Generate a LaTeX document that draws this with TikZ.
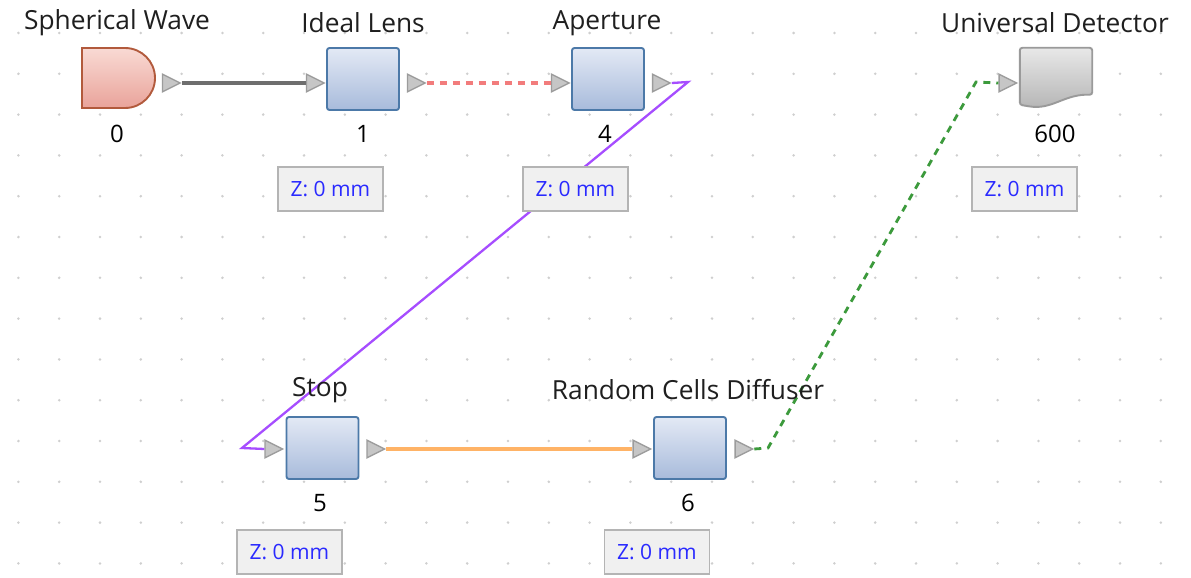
\documentclass[tikz,border=0pt]{standalone}
\usepackage{fontspec}
\setmainfont{Open Sans}
\usetikzlibrary{shapes.geometric,shapes.misc,calc}
\definecolor{boxtop}{HTML}{E3E9F5}
\definecolor{boxbot}{HTML}{A8BBDB}
\definecolor{boxedge}{HTML}{4C79A8}
\definecolor{srctop}{HTML}{F9DAD4}
\definecolor{srcbot}{HTML}{E9A39A}
\definecolor{srcedge}{HTML}{B25A3C}
\definecolor{dettop}{HTML}{E8E8E8}
\definecolor{detbot}{HTML}{B6B6B6}
\definecolor{detedge}{HTML}{9A9A9A}
\definecolor{portfill}{HTML}{C6C6C6}
\definecolor{portedge}{HTML}{9C9C9C}
\definecolor{dotc}{HTML}{CFCFCF}
\definecolor{zfill}{HTML}{F0F0F0}
\definecolor{zedge}{HTML}{B4B4B4}
\definecolor{ztext}{HTML}{2A2AFF}
\definecolor{cgray}{HTML}{6E6E6E}
\definecolor{cred}{HTML}{F27C7C}
\definecolor{cpurple}{HTML}{A64DFF}
\definecolor{corange}{HTML}{FFB366}
\definecolor{cgreen}{HTML}{3C9A3C}
\begin{document}
\begin{tikzpicture}[x=1pt,y=-1pt,
  title/.style={font=\fontsize{26.3}{29}\selectfont, text=black!88, inner sep=0},
  num/.style={font=\fontsize{24}{28}\selectfont, text=black, inner sep=0},
  zbox/.style={draw=zedge, line width=1.4pt, fill=zfill, minimum width=105pt, minimum height=44pt, text=ztext, font=\fontsize{21}{24}\selectfont, inner sep=0},
  elem/.style={draw=boxedge, line width=1.9pt, rounded corners=2.5pt, top color=boxtop, bottom color=boxbot, minimum width=72pt, minimum height=62pt, inner sep=0},
  srcshape/.style={rounded rectangle, rounded rectangle left arc=none, draw=srcedge, line width=1.9pt, top color=srctop, bottom color=srcbot, minimum width=73pt, minimum height=60pt, inner sep=0},
  port/.style={isosceles triangle, isosceles triangle stretches, draw=portedge, fill=portfill, line width=1.3pt, minimum width=17.5pt, minimum height=17.5pt, inner sep=0},
  cgrayline/.style={draw=cgray, line width=3.3pt},
  credline/.style={draw=cred, line width=3.3pt, dash pattern=on 7pt off 6pt},
  cpurpleline/.style={draw=cpurple, line width=2.3pt},
  corangeline/.style={draw=corange, line width=3.5pt},
  cgreenline/.style={draw=cgreen, line width=2.8pt, dash pattern=on 7pt off 6pt}
]
\useasboundingbox (0,0) rectangle (1191,578);
\fill[white] (0,0) rectangle (1191,578);
% grid dots
\foreach \i in {0,...,28} {
  \foreach \j in {0,...,13} {
    \fill[dotc] ({18.4+40.8*\i},{33+40.8*\j}) circle (1.4pt);
  }
}
% elements
\node[srcshape] (src) at (118.5,78) {};
\node[elem] (lens) at (363,79) {};
\node[elem] (ap) at (608,79) {};
\node[elem] (stop) at (322.5,448) {};
\node[elem] (diff) at (690,448) {};
\node[minimum width=72pt, minimum height=60pt, inner sep=0] (det) at (1056,78) {};
\draw[draw=detedge, line width=1.9pt, top color=dettop, bottom color=detbot, rounded corners=2.5pt]
  (det.north west) -- (det.north east) -- ($(det.north east)+(0,47)$)
  .. controls ($(det.north east)+(-26,46)$) and ($(det.north east)+(-38,60)$) .. ($(det.north west)+(12,59)$)
  -- ($(det.north west)+(0,57)$) -- cycle;
% ports
\node[port] (p0o) at (168,83) {};
\node[port] (p1i) at (312,83) {};
\node[port] (p1o) at (413,83) {};
\node[port] (p4i) at (557,83) {};
\node[port] (p4o) at (658,83) {};
\node[port] (p5i) at (270.5,449) {};
\node[port] (p5o) at (372.5,449) {};
\node[port] (p6i) at (638.5,449) {};
\node[port] (p6o) at (740.5,449) {};
\node[port] (p600i) at (1004.5,83) {};
% bend points
\coordinate (b1) at (688,82);
\coordinate (b2) at (242,448);
\coordinate (g1) at (768,448);
\coordinate (g2) at (976,82);
% connectors
\draw[cgrayline] (p0o.apex) -- (p1i.west);
\draw[credline] (p1o.apex) -- (p4i.west);
\draw[cpurpleline] (p4o.apex) -- (b1) -- (b2) -- (p5i.west);
\draw[corangeline] (p5o.apex) -- (p6i.west);
\draw[cgreenline] (p6o.apex) -- (g1) -- (g2) -- (p600i.west);
% titles
\node[title] (tsrc) at (117,23) {Spherical Wave};
\node[title] (tlens) at (363,23) {Ideal Lens};
\node[title] (tap) at (607,23) {Aperture};
\node[title] (tdet) at (1055,23) {Universal Detector};
\node[title] (tstop) at (320,390) {Stop};
\node[title] (tdiff) at (688,390) {Random Cells Diffuser};
% numbers
\node[num] (nsrc) at (117,134) {0};
\node[num] (nlens) at (363,134) {1};
\node[num] (nap) at (605,134) {4};
\node[num] (ndet) at (1055,134) {600};
\node[num] (nstop) at (320,503) {5};
\node[num] (ndiff) at (688,503) {6};
% z boxes
\node[zbox] (zlens) at (330.5,189) {Z: 0 mm};
\node[zbox] (zap) at (575.5,189) {Z: 0 mm};
\node[zbox] (zdet) at (1024.5,189) {Z: 0 mm};
\node[zbox] (zstop) at (289.5,552) {Z: 0 mm};
\node[zbox] (zdiff) at (657,552) {Z: 0 mm};
\end{tikzpicture}
\end{document}
